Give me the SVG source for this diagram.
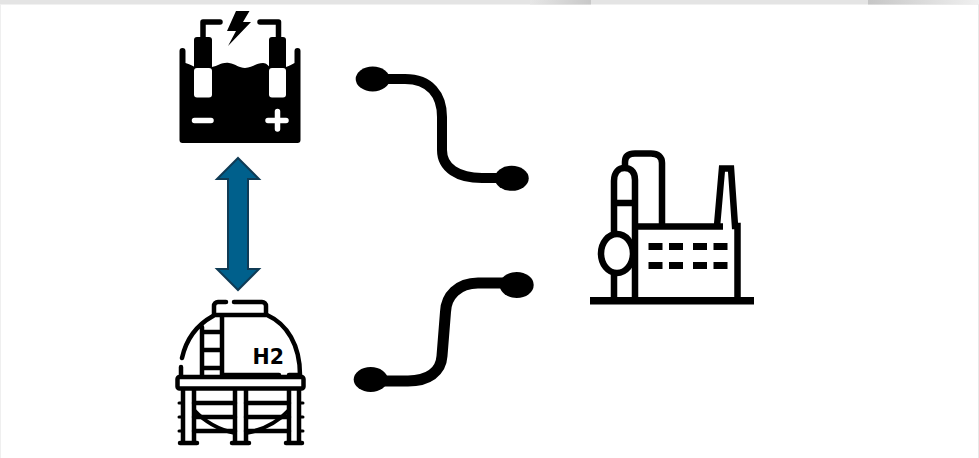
<svg xmlns="http://www.w3.org/2000/svg" width="979" height="458" viewBox="0 0 979 458">
<defs>
<linearGradient id="s1" x1="0" x2="1" y1="0" y2="0"><stop offset="0" stop-color="#e6e6e6"/><stop offset="1" stop-color="#c8c8c8"/></linearGradient>
<linearGradient id="s2" x1="0" x2="1" y1="0" y2="0"><stop offset="0" stop-color="#c6c6c6"/><stop offset="1" stop-color="#f0f0f0"/></linearGradient>
</defs>
<style>
.ln{fill:none;stroke:#000;stroke-linecap:round;stroke-linejoin:round}
.w{fill:#fff;stroke:#000;stroke-width:4.500;stroke-linejoin:round}
.f{fill:#000}
.conn{fill:none;stroke:#000;stroke-width:10;stroke-linecap:round}
.b{stroke-linecap:butt;stroke-linejoin:round}
</style>
<rect width="979" height="458" fill="#fff"/>
<g id="frame">
<rect x="0" y="0" width="979" height="4.500" fill="#e4e4e4"/>
<rect x="530" y="0" width="61" height="4.500" fill="url(#s1)"/>
<rect x="868" y="0" width="111" height="4.500" fill="url(#s2)"/>
<rect x="978" y="4" width="1" height="454" fill="#e8e8e8"/>
<rect x="0" y="4" width="1" height="454" fill="#efefef"/>
</g>
<g id="connectors">
<path class="conn" d="M372 79H405C430 79 442 95 442 117V150C442 168 458 178 482 178H511"/>
<ellipse class="f" cx="372.700" cy="79" rx="17" ry="12.500"/>
<ellipse class="f" cx="511.700" cy="178.300" rx="17" ry="12.500"/>
<path class="conn" style="stroke-width:11" d="M371 381H408C428 381 441 372 442 356L445.500 312C446 296 458 283 478 283H516"/>
<ellipse class="f" cx="370.700" cy="379.500" rx="17" ry="12.500"/>
<ellipse class="f" cx="516.700" cy="285" rx="17" ry="13"/>
</g>
<g id="battery">
<path class="f" d="M179.500 51a3 3 0 0 1 6 0V63C190 64 192 66 195 67H212C218 66 222 62 229 63C236 64 239 68 245 68C252 68 256 63 263 63C267 63 268 66 270 67H286C290 66 292 64 294.500 63V51a3 3 0 0 1 6 0V140a3 3 0 0 1-3 3H182.500a3 3 0 0 1-3-3Z"/>
<path class="f" d="M194 40a3 3 0 0 1 3-3H209a3 3 0 0 1 3 3V68H194Z"/>
<path class="f" d="M269 40a3 3 0 0 1 3-3H283a3 3 0 0 1 3 3V68H269Z"/>
<rect x="194" y="68" width="18" height="29.500" rx="3" fill="#fff"/>
<rect x="269" y="68" width="17" height="29.500" rx="3" fill="#fff"/>
<path class="ln" stroke-width="5.500" d="M203 37V22H220M278.500 37V22H260"/>
<polygon class="f" points="236,11 249.500,11 243,22 251,22 228,46 236,31 227,31"/>
<path class="ln" style="stroke:#fff" stroke-width="5.500" d="M194.500 120.500H211M268 120.500H286M277.500 111.500V129"/>
</g>
<g id="exchange-arrow">
<polygon points="238,158 259,179 248,179 248,269 259,269 238,290 217,269 228,269 228,179 217,179" fill="#00608c" stroke="#0f3b55" stroke-width="2"/>
</g>
<g id="h2-tank">
<path class="ln" stroke-width="4.500" d="M182 358C186 340 195 326 213 316M267 315C287 324 300 345 300 375M181 367V375"/>
<path class="ln" stroke-width="4.500" d="M214 315V306a4 4 0 0 1 4-4H226M234 302H262a4 4 0 0 1 4 4V315H214"/>
<path class="ln" stroke-width="4.500" d="M202 376V327M222 376V316M202 332H222M202 350H222M202 368H222M222 375H279M289 375H300"/>
<text x="252.500" y="364" font-family="'DejaVu Sans',Verdana,sans-serif" font-size="20.500" font-weight="700" fill="#000">H2</text>
<rect class="w" x="177.500" y="377" width="126" height="11.500" rx="2"/>
<path class="ln" stroke-width="4.500" d="M183 390V442M194 390V442M235 390V442M246 390V442M289 390V442M299 390V442M180 443H197M232 443H249M286 443H302"/>
<path class="ln" stroke-width="4.500" d="M194 403H235M246 403H289M194 417H235M246 417H289M194 431H235M246 431H289"/>
<path class="ln" stroke-width="4" d="M194 410C205 422 220 430 235 433M246 433C262 430 278 422 289 410"/>
<path class="ln" stroke-width="3" d="M179 403H181M179 417H181M179 431H181M301 403H303M301 417H303M301 431H303"/>
</g>
<g id="factory">
<rect class="f" x="590" y="297" width="164" height="7.500"/>
<path class="ln b" stroke-width="6.500" d="M635 297V180C635 170 629 168 624.500 168C619 168 614 172 614 181V297M614 203H635"/>
<path class="ln b" stroke-width="6.500" d="M625 168V162C625 155 630 153.500 635 153.500H651C658 153.500 662 157 662 163V226"/>
<ellipse cx="617" cy="253.500" rx="16" ry="19.500" fill="#fff" stroke="#000" stroke-width="6.500"/>
<path class="ln b" style="stroke-linejoin:miter" stroke-width="6.500" d="M637 226.500H723M717 226L722 168.500H731L735 226H737.500V297"/>
<g class="f">
<rect x="648.500" y="243" width="14" height="7"/><rect x="669" y="243" width="14" height="7"/><rect x="693" y="243" width="14" height="7"/><rect x="713.500" y="243" width="14" height="7"/>
<rect x="648.500" y="262" width="14" height="7"/><rect x="669" y="262" width="14" height="7"/><rect x="693" y="262" width="14" height="7"/><rect x="713.500" y="262" width="14" height="7"/>
</g>
</g>
</svg>
